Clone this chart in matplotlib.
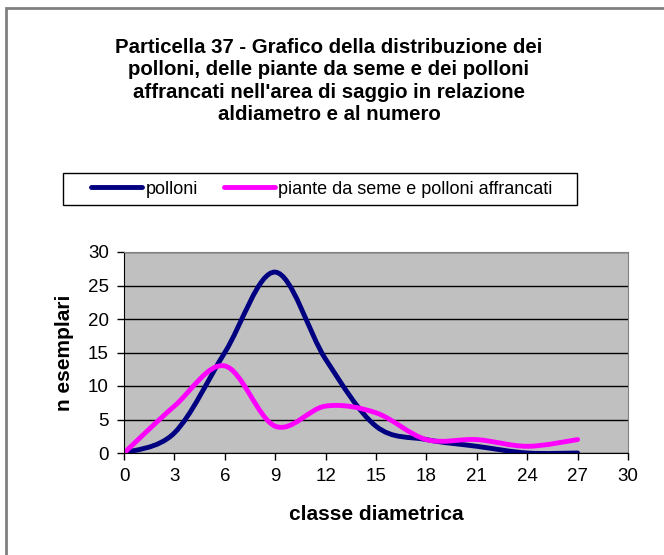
import matplotlib.pyplot as plt
import numpy as np
from matplotlib.path import Path
from matplotlib.patches import PathPatch, Rectangle
from matplotlib.lines import Line2D

plt.rcParams['font.family'] = ['Liberation Sans', 'DejaVu Sans']

classi = [0, 3, 6, 9, 12, 15, 18, 21, 24, 27]
polloni = [0, 3, 15, 27, 14, 4, 2, 1, 0, 0]
piante = [0, 7, 13, 4, 7, 6, 2, 2, 1, 2]

titolo = ("Particella 37 - Grafico della distribuzione dei\n"
          "polloni, delle piante da seme e dei polloni\n"
          "affrancati nell'area di saggio in relazione\n"
          "aldiametro e al numero")


def smooth_path(x, y):
    # Excel-style smoothed line: Catmull-Rom segments as cubic Bezier curves
    x = np.asarray(x, float)
    y = np.asarray(y, float)
    verts = [(x[0], y[0])]
    codes = [Path.MOVETO]
    n = len(x)
    for i in range(n - 1):
        i0 = max(i - 1, 0)
        i3 = min(i + 2, n - 1)
        c1 = (x[i] + (x[i + 1] - x[i0]) / 6, y[i] + (y[i + 1] - y[i0]) / 6)
        c2 = (x[i + 1] - (x[i3] - x[i]) / 6, y[i + 1] - (y[i3] - y[i]) / 6)
        verts += [c1, c2, (x[i + 1], y[i + 1])]
        codes += [Path.CURVE4] * 3
    return Path(verts, codes)


fig = plt.figure(figsize=(6.64, 5.55), dpi=100)
ax = fig.add_axes([124 / 664, 1 - 453 / 555, 504 / 664, 201 / 555])
ax.set_facecolor('#c0c0c0')

ax.add_patch(PathPatch(smooth_path(classi, polloni), fill=False,
                       edgecolor='#000080', linewidth=3.5, capstyle='round'))
ax.add_patch(PathPatch(smooth_path(classi, piante), fill=False,
                       edgecolor='#ff00ff', linewidth=3.5, capstyle='round'))

ax.set_xlim(0, 30)
ax.set_ylim(0, 30)
ax.set_xticks(range(0, 31, 3))
ax.set_yticks(range(0, 31, 5))
ax.yaxis.grid(True, color='black', linewidth=1)
ax.set_axisbelow(True)
ax.tick_params(direction='out', length=5, width=1, labelsize=13.5, pad=6,
               color='black')
for s in ax.spines.values():
    s.set_color('#808080')
ax.spines['left'].set_color('black')
ax.spines['bottom'].set_color('black')

ax.set_xlabel('classe diametrica', fontsize=15, fontweight='bold', labelpad=14)
ax.set_ylabel('n esemplari', fontsize=15, fontweight='bold', labelpad=10)

fig.text(329 / 664, 1 - 81 / 555, titolo, ha='center', va='center',
         fontsize=14.7, fontweight='bold', linespacing=1.22)

handles = [Line2D([], [], color='#000080', linewidth=3.5, solid_capstyle='round'),
           Line2D([], [], color='#ff00ff', linewidth=3.5, solid_capstyle='round')]
leg = fig.legend(handles, ['polloni', 'piante da seme e polloni affrancati'],
                 loc='center', bbox_to_anchor=(322 / 664, 1 - 189 / 555),
                 ncol=2, fontsize=13, frameon=False,
                 handlelength=2.8, handletextpad=0.2,
                 columnspacing=1.45, borderpad=0.3)

fig.add_artist(Rectangle((63 / 664, 1 - 205 / 555), 514 / 664, 32 / 555,
                         transform=fig.transFigure, fill=False,
                         edgecolor='black', linewidth=1))
fig.add_artist(Rectangle((6 / 664, -0.1), 1.2, 1 - 8 / 555 + 0.1,
                         transform=fig.transFigure, fill=False,
                         edgecolor='#808080', linewidth=2))

fig.savefig('out.png', dpi=100)
